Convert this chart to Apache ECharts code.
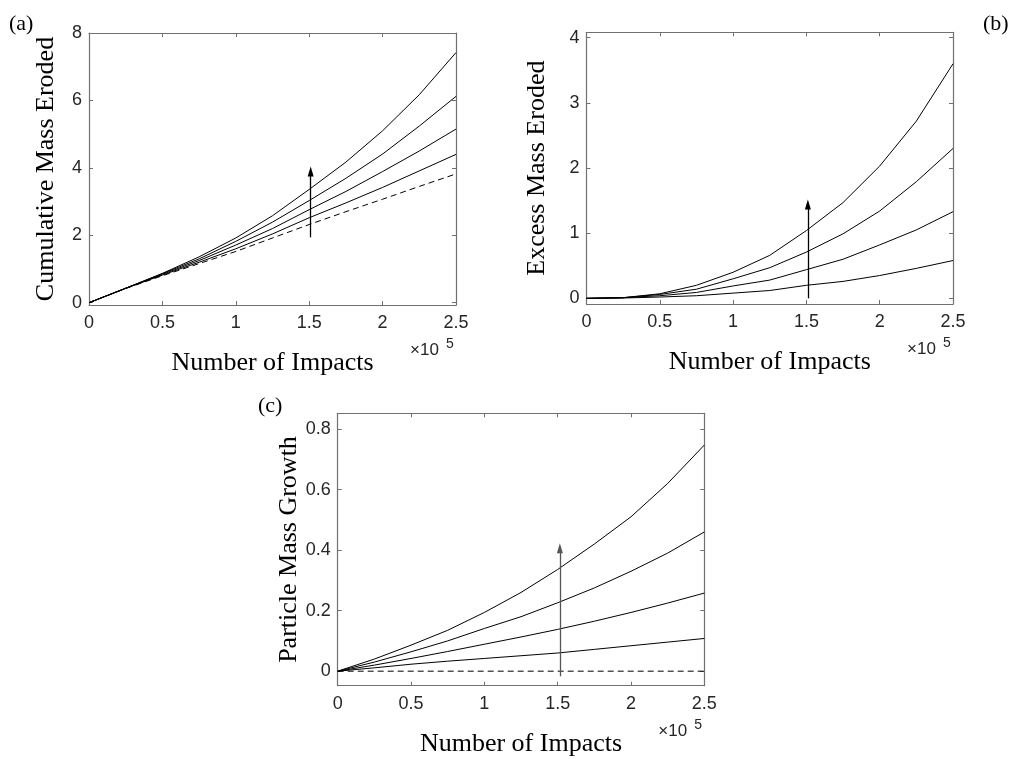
<!DOCTYPE html>
<html>
<head>
<meta charset="utf-8">
<script src="https://cdn.jsdelivr.net/npm/echarts@6/dist/echarts.min.js"></script>
<style>
  html, body { margin: 0; padding: 0; background: #fff; }
  #chart { width: 1018px; height: 759px; }
</style>
</head>
<body>
<div id="chart"></div>
<script>
// Number of impacts at which each run was sampled
const impacts = [0, 25000, 50000, 75000, 100000, 125000, 150000, 175000, 200000, 225000, 250000];

// (a) Cumulative mass eroded: baseline (dashed) and four runs, lowest to highest
const cumBaseline = [0, 0.42, 0.80, 1.16, 1.52, 1.92, 2.32, 2.70, 3.07, 3.45, 3.82];
const cumRun1 = [0, 0.425, 0.82, 1.20, 1.60, 2.04, 2.52, 2.96, 3.42, 3.91, 4.40];
const cumRun2 = [0, 0.43, 0.84, 1.25, 1.71, 2.20, 2.76, 3.30, 3.89, 4.50, 5.15];
const cumRun3 = [0, 0.43, 0.86, 1.30, 1.82, 2.39, 3.03, 3.69, 4.41, 5.24, 6.12];
const cumRun4 = [0, 0.43, 0.87, 1.36, 1.92, 2.58, 3.36, 4.17, 5.10, 6.17, 7.42];

// (b) Excess mass eroded, lowest to highest
const excRun1 = [0, 0.005, 0.02, 0.04, 0.08, 0.12, 0.20, 0.26, 0.35, 0.46, 0.58];
const excRun2 = [0, 0.01, 0.04, 0.09, 0.19, 0.28, 0.44, 0.60, 0.82, 1.05, 1.33];
const excRun3 = [0, 0.01, 0.06, 0.14, 0.30, 0.47, 0.71, 0.99, 1.34, 1.79, 2.30];
const excRun4 = [0, 0.01, 0.07, 0.20, 0.40, 0.66, 1.04, 1.47, 2.03, 2.72, 3.60];

// (c) Particle mass growth: baseline (dashed) and four runs
const growBaseline = [0, 0, 0, 0, 0, 0, 0, 0, 0, 0, 0];
const growRun1 = [0, 0.011, 0.023, 0.033, 0.042, 0.051, 0.060, 0.072, 0.084, 0.096, 0.108];
const growRun2 = [0, 0.02, 0.042, 0.065, 0.089, 0.113, 0.138, 0.165, 0.194, 0.225, 0.258];
const growRun3 = [0, 0.03, 0.064, 0.10, 0.141, 0.18, 0.226, 0.275, 0.33, 0.39, 0.46];
const growRun4 = [0, 0.04, 0.086, 0.135, 0.194, 0.26, 0.336, 0.42, 0.51, 0.62, 0.747];

// Tick values
const xTicks = [0, 50000, 100000, 150000, 200000, 250000];
const yTicksA = [0, 2, 4, 6, 8];
const yTicksB = [0, 1, 2, 3, 4];
const yTicksC = [0, 0.2, 0.4, 0.6, 0.8];

// Trend arrows: [impacts, from, to]
const arrowA = [151000, 1.94, 3.89];
const arrowB = [151000, 0.0, 1.44];
const arrowC = [151500, -0.017, 0.406];

const AXIS_COLOR = '#707070';
const LABEL_COLOR = '#262626';
const SANS = 'Liberation Sans';
const SERIF = 'Liberation Serif';

const grids = [
  { left: 89, top: 33, width: 367, height: 272 },
  { left: 586.5, top: 32.3, width: 366.5, height: 271.7 },
  { left: 337.7, top: 413.3, width: 366.6, height: 272.4 }
];
const yRanges = [[-0.068, 8], [-0.087, 4.083], [-0.048, 0.852]];
const yTickSets = [yTicksA, yTicksB, yTicksC];
const yNames = ['Cumulative Mass Eroded', 'Excess Mass Eroded', 'Particle Mass Growth'];
const yNameGaps = [30, 36, 36];

const xAxes = [], yAxes = [];
grids.forEach((g, i) => {
  const common = {
    type: 'value', gridIndex: i, min: 0, max: 250000, interval: 50000,
    axisLine: { show: true, onZero: false, lineStyle: { color: AXIS_COLOR, width: 1.2 } },
    axisTick: { show: true, inside: true, length: 4, customValues: xTicks, lineStyle: { color: AXIS_COLOR } },
    splitLine: { show: false }
  };
  xAxes.push(Object.assign({}, common, {
    position: 'bottom',
    axisLabel: { show: true, margin: 9, color: LABEL_COLOR, fontFamily: SANS, fontSize: 18,
      customValues: xTicks, formatter: v => String(v / 100000) },
    name: 'Number of Impacts', nameLocation: 'middle', nameGap: 45,
    nameTextStyle: { fontFamily: SERIF, fontSize: 26, color: '#000' }
  }));
  xAxes.push(Object.assign({}, common, { position: 'top', axisLabel: { show: false } }));

  const yc = {
    type: 'value', gridIndex: i, min: yRanges[i][0], max: yRanges[i][1],
    axisLine: { show: true, onZero: false, lineStyle: { color: AXIS_COLOR, width: 1.2 } },
    axisTick: { show: true, inside: true, length: 4, customValues: yTickSets[i], lineStyle: { color: AXIS_COLOR } },
    splitLine: { show: false }
  };
  yAxes.push(Object.assign({}, yc, {
    position: 'left',
    axisLabel: { show: true, margin: 7, color: LABEL_COLOR, fontFamily: SANS, fontSize: 18,
      customValues: yTickSets[i] },
    name: yNames[i], nameLocation: 'middle', nameGap: yNameGaps[i], nameRotate: 90,
    nameTextStyle: { fontFamily: SERIF, fontSize: 26, color: '#000' }
  }));
  yAxes.push(Object.assign({}, yc, { position: 'right', axisLabel: { show: false } }));
});

function pairs(ys) { return impacts.map((x, k) => [x, ys[k]]); }

function curve(panel, ys, dashed) {
  return {
    type: 'line', xAxisIndex: panel * 2, yAxisIndex: panel * 2,
    data: pairs(ys), showSymbol: false, symbol: 'none', silent: true,
    lineStyle: { color: '#000', width: 1, type: dashed ? [6, 4] : 'solid' },
    z: 3
  };
}

function arrow(panel, a, color) {
  return {
    type: 'line', xAxisIndex: panel * 2, yAxisIndex: panel * 2, data: [], silent: true,
    markLine: {
      silent: true, animation: false,
      symbol: ['none', 'triangle'], symbolSize: [6, 10],
      label: { show: false },
      lineStyle: { color: color, width: 1.3, type: 'solid' },
      data: [[{ coord: [a[0], a[1]] }, { coord: [a[0], a[2]] }]]
    }
  };
}

const series = [
  curve(0, cumBaseline, true), curve(0, cumRun1), curve(0, cumRun2), curve(0, cumRun3), curve(0, cumRun4),
  arrow(0, arrowA, '#000'),
  curve(1, excRun1), curve(1, excRun2), curve(1, excRun3), curve(1, excRun4),
  arrow(1, arrowB, '#000'),
  curve(2, growBaseline, true), curve(2, growRun1), curve(2, growRun2), curve(2, growRun3), curve(2, growRun4),
  arrow(2, arrowC, '#555')
];

// Panel letters and the x10^5 exponent notes
const graphic = [
  { type: 'text', left: 9, top: 13, style: { text: '(a)', font: '22px "' + SERIF + '"', fill: '#000' } },
  { type: 'text', left: 983, top: 13, style: { text: '(b)', font: '22px "' + SERIF + '"', fill: '#000' } },
  { type: 'text', left: 258, top: 395, style: { text: '(c)', font: '22px "' + SERIF + '"', fill: '#000' } }
];
grids.forEach(g => {
  const right = g.left + g.width;
  const bottom = g.top + g.height;
  graphic.push({ type: 'text', left: right - 46, top: bottom + 37,
    style: { text: '×10', font: '17px "' + SANS + '"', fill: LABEL_COLOR } });
  graphic.push({ type: 'text', left: right - 10, top: bottom + 32,
    style: { text: '5', font: '14px "' + SANS + '"', fill: LABEL_COLOR } });
});

const chart = echarts.init(document.getElementById('chart'), null, { renderer: 'canvas' });
chart.setOption({
  animation: false,
  backgroundColor: '#fff',
  grid: grids,
  xAxis: xAxes,
  yAxis: yAxes,
  series: series,
  graphic: graphic
});
</script>
</body>
</html>
